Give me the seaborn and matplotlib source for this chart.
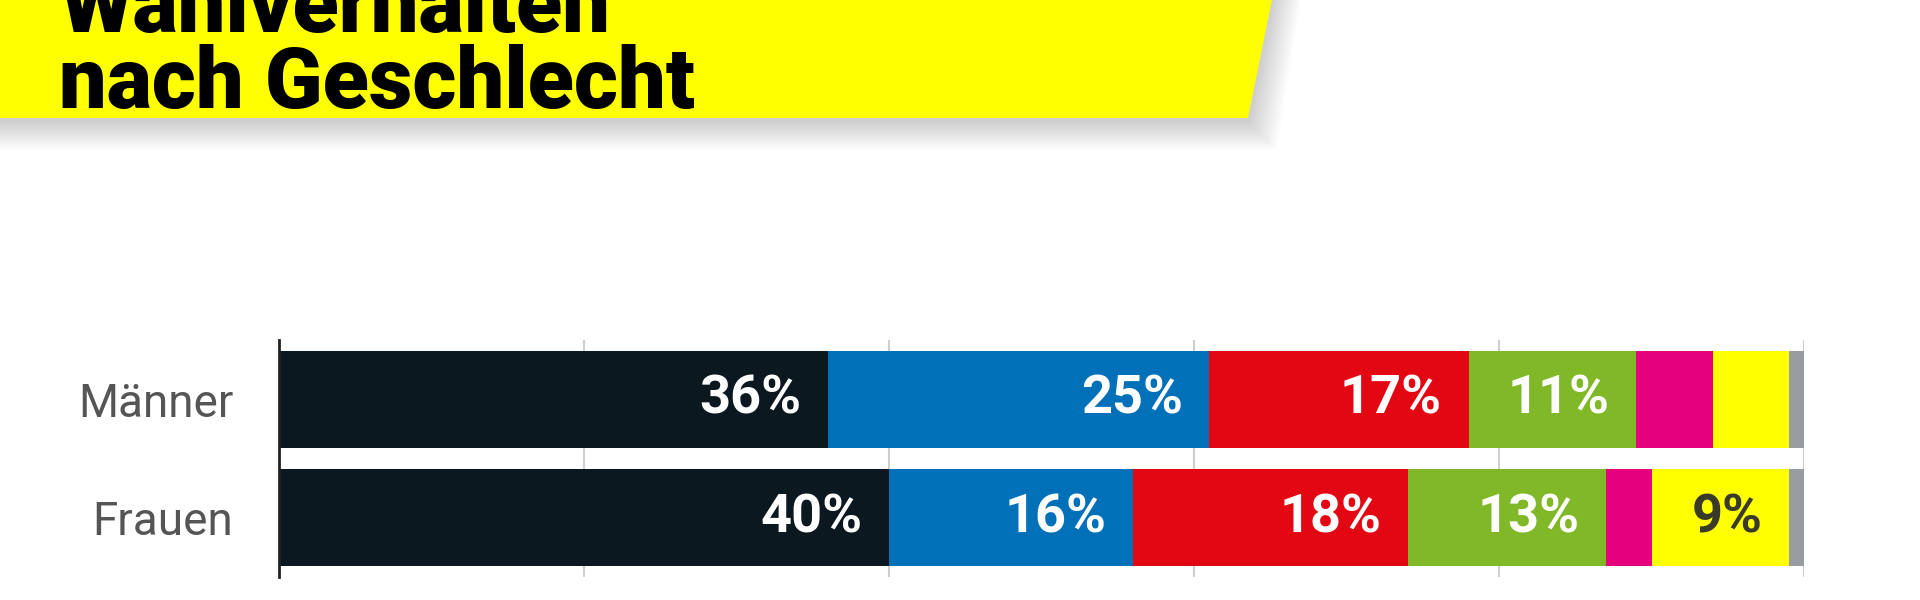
import numpy as np
import pandas as pd
import matplotlib
matplotlib.use("Agg")
import matplotlib.pyplot as plt
from matplotlib.patches import Polygon
import seaborn as sns

# ---- data ----
groups = ["Männer", "Frauen"]
parties = ["CDU/CSU", "AfD", "SPD", "Grüne", "Linke", "FDP", "Sonstige"]
men = [36, 25, 17, 11, 5, 5, 1]
women = [40, 16, 18, 13, 3, 9, 1]
party_colors = ["#0b1820", "#0070b8", "#e30613", "#80b828", "#e5007d", "#ffff00", "#999ca0"]
label_colors = ["white", "white", "white", "white", "white", "#3a3a2a", "white"]
title_lines = ["Wahlverhalten", "nach Geschlecht"]
min_label = 9

sns.set_theme(style="white")
plt.rcParams["font.family"] = ["Roboto", "DejaVu Sans"]

W, H = 1920, 600
fig = plt.figure(figsize=(W / 100, H / 100), dpi=100)
fig.patch.set_facecolor("white")

# ---- banner with soft shadow ----
def px(x, y):
    return (x / W, 1 - y / H)

banner = [(-10, -10), (1274, -10), (1248, 118), (-10, 118)]
for k in range(16, 0, -1):
    d = k * 1.8
    pts = [(-10, -10), (1274 + d, -10), (1248 + d, 118 + d + 3), (-10, 118 + d + 3)]
    fig.patches.append(Polygon([px(x, y) for x, y in pts], closed=True, transform=fig.transFigure,
                               facecolor="#000000", alpha=0.011, edgecolor="none", zorder=0))
fig.patches.append(Polygon([px(x, y) for x, y in banner], closed=True, transform=fig.transFigure,
                           facecolor="#ffff00", edgecolor="none", zorder=1))
fig.text(59 / W, 1 - 32 / H, title_lines[0], fontsize=61, fontweight="heavy",
         color="black", ha="left", va="baseline", zorder=3)
fig.text(59 / W, 1 - 108 / H, title_lines[1], fontsize=61, fontweight="heavy",
         color="black", ha="left", va="baseline", zorder=3)

# ---- chart ----
ax = fig.add_axes([279 / W, 1 - 577 / H, 1525 / W, 237 / H])
data = pd.DataFrame([men, women], index=groups, columns=parties)
cum = data.cumsum(axis=1)

for i in range(len(parties) - 1, -1, -1):
    sns.barplot(x=cum.iloc[:, i].values, y=groups, color=party_colors[i],
                orient="h", width=0.82, saturation=1, linewidth=0, ax=ax)

for r, g in enumerate(groups):
    for i, p in enumerate(parties):
        v = data.loc[g, p]
        if v >= min_label:
            ax.annotate(f"{v}%", xy=(cum.loc[g, p], r), xytext=(-19, 0),
                        textcoords="offset points", ha="right", va="center",
                        fontsize=39, fontweight="bold", color=label_colors[i])

ax.set_xlim(0, 100)
ax.set_ylim(1.5, -0.5)
ax.set_xticks([0, 20, 40, 60, 80, 100])
ax.set_axisbelow(True)
ax.xaxis.grid(True, color="#cfcfcf", linewidth=1.5)
ax.yaxis.grid(False)
ax.tick_params(axis="x", length=0, labelbottom=False)
ax.tick_params(axis="y", length=0, pad=33, labelsize=33, labelcolor="#555555")
ax.set_xlabel("")
ax.set_ylabel("")
for s in ["top", "right", "bottom"]:
    ax.spines[s].set_visible(False)
ax.spines["left"].set_color("#222222")
ax.spines["left"].set_linewidth(2)
ax.set_facecolor("white")

fig.savefig("out.png", dpi=100, facecolor="white")
